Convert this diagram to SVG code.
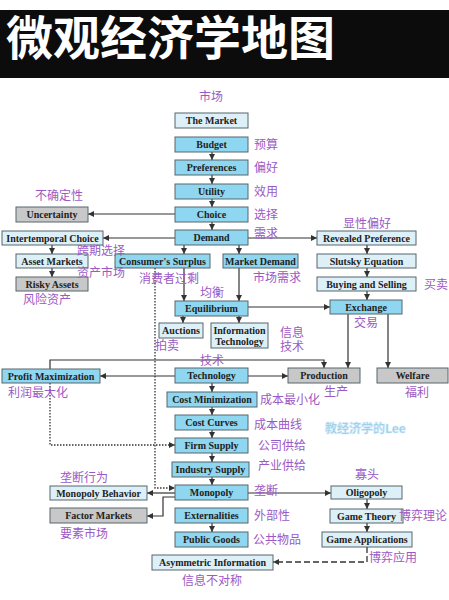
<svg xmlns="http://www.w3.org/2000/svg" width="449" height="600" viewBox="0 0 449 600">
<defs>
<marker id="ah" viewBox="0 0 6 6" refX="6" refY="3" markerWidth="6" markerHeight="6" markerUnits="userSpaceOnUse" orient="auto">
<path d="M0,0 L6,3 L0,6 z" fill="#333"/>
</marker>
<style>
.c{fill:#8fd6f0;stroke:#56666c;stroke-width:1}
.p{fill:#ddf0f8;stroke:#56666c;stroke-width:1}
.g{fill:#c8c8c8;stroke:#56666c;stroke-width:1}
.t{font-family:"Liberation Serif",serif;font-weight:bold;font-size:10px;fill:#222;text-anchor:middle}
.z{font-family:"Noto Sans CJK SC",sans-serif;font-size:12px;fill:#9b59c4}
.ln{fill:none;stroke:#333;stroke-width:1.2;marker-end:url(#ah)}
.dot{fill:none;stroke:#333;stroke-width:1.3;stroke-dasharray:1.5,1.5;marker-end:url(#ah)}
.dash{fill:none;stroke:#333;stroke-width:1.3;stroke-dasharray:6,3;marker-end:url(#ah)}
</style>
</defs>
<rect x="0" y="0" width="449" height="600" fill="#fff"/>
<rect x="0" y="10" width="449" height="68" fill="#0c0c0c"/>
<text x="6" y="55" font-family="Noto Sans CJK SC,sans-serif" font-weight="bold" font-size="47" fill="#fff">微观经济学地图</text>

<g id="connectors">
<path class="ln" d="M212,152V160"/>
<path class="ln" d="M212,175V184"/>
<path class="ln" d="M212,199V207"/>
<path class="ln" d="M212,222V230"/>
<path class="ln" d="M175,214H88"/>
<path class="ln" d="M175,238H103"/>
<path class="ln" d="M248,238H317"/>
<path class="ln" d="M184,245V254"/>
<path class="ln" d="M239,245V254"/>
<path class="ln" d="M184,268V301"/>
<path class="ln" d="M239,268V301"/>
<path class="ln" d="M52,245V254"/>
<path class="ln" d="M52,268V277"/>
<path class="ln" d="M367,245V254"/>
<path class="ln" d="M367,268V277"/>
<path class="ln" d="M367,291V300"/>
<path class="ln" d="M248,307H330"/>
<path class="ln" d="M183,316V323"/>
<path class="ln" d="M239,316V323"/>
<path class="ln" d="M348,314V368"/>
<path class="ln" d="M388,314V368"/>
<path class="ln" d="M175,376H100"/>
<path class="ln" d="M248,376H288"/>
<path class="ln" d="M50,369V360H324V368"/>
<path class="ln" d="M212,383V392"/>
<path class="ln" d="M212,407V415"/>
<path class="ln" d="M212,430V438"/>
<path class="ln" d="M212,453V462"/>
<path class="ln" d="M212,477V485"/>
<path class="ln" d="M175,493H147"/>
<path class="ln" d="M175,497H163V516H147"/>
<path class="ln" d="M248,493H331"/>
<path class="ln" d="M367,499V509"/>
<path class="ln" d="M367,523V532"/>
<path class="ln" d="M212,523V532"/>
<path class="dash" d="M367,547V562H273"/>
<path class="dot" d="M155,268V488H175"/>
<path class="dot" d="M50,383V445H175"/>
</g>

<g id="market"><rect class="p" x="175" y="113" width="73" height="15"/><text class="t" x="211.5" y="124">The Market</text></g>
<g id="budget"><rect class="c" x="175" y="137" width="73" height="15"/><text class="t" x="211.5" y="148">Budget</text></g>
<g id="preferences"><rect class="c" x="175" y="160" width="73" height="15"/><text class="t" x="211.5" y="171">Preferences</text></g>
<g id="utility"><rect class="c" x="175" y="184" width="73" height="15"/><text class="t" x="211.5" y="195">Utility</text></g>
<g id="choice"><rect class="c" x="175" y="207" width="73" height="15"/><text class="t" x="211.5" y="218">Choice</text></g>
<g id="demand"><rect class="c" x="175" y="230" width="73" height="15"/><text class="t" x="211.5" y="241">Demand</text></g>
<g id="equilibrium"><rect class="c" x="175" y="301" width="73" height="15"/><text class="t" x="211.5" y="312">Equilibrium</text></g>
<g id="technology"><rect class="c" x="175" y="368" width="73" height="15"/><text class="t" x="211.5" y="379">Technology</text></g>
<g id="costmin"><rect class="c" x="167" y="392" width="90" height="15"/><text class="t" x="212" y="403">Cost Minimization</text></g>
<g id="costcurves"><rect class="c" x="175" y="415" width="73" height="15"/><text class="t" x="211.5" y="426">Cost Curves</text></g>
<g id="firmsupply"><rect class="c" x="175" y="438" width="73" height="15"/><text class="t" x="211.5" y="449">Firm Supply</text></g>
<g id="industrysupply"><rect class="c" x="172" y="462" width="77" height="15"/><text class="t" x="210.5" y="473">Industry Supply</text></g>
<g id="monopoly"><rect class="c" x="175" y="485" width="73" height="15"/><text class="t" x="211.5" y="496">Monopoly</text></g>
<g id="externalities"><rect class="c" x="175" y="508" width="73" height="15"/><text class="t" x="211.5" y="519">Externalities</text></g>
<g id="publicgoods"><rect class="c" x="175" y="532" width="73" height="15"/><text class="t" x="211.5" y="543">Public Goods</text></g>
<g id="asym"><rect class="p" x="152" y="555" width="121" height="15"/><text class="t" x="212.5" y="566">Asymmetric Information</text></g>
<g id="uncertainty"><rect class="g" x="16" y="207" width="72" height="15"/><text class="t" x="52" y="218">Uncertainty</text></g>
<g id="intertemporal"><rect class="p" x="2" y="231" width="101" height="14"/><text class="t" x="52.5" y="241.5">Intertemporal Choice</text></g>
<g id="assetmarkets"><rect class="p" x="16" y="254" width="72" height="14"/><text class="t" x="52" y="264.5">Asset Markets</text></g>
<g id="riskyassets"><rect class="g" x="16" y="277" width="72" height="14"/><text class="t" x="52" y="287.5">Risky Assets</text></g>
<g id="consumersurplus"><rect class="c" x="115" y="254" width="95" height="14"/><text class="t" x="162.5" y="264.5">Consumer's Surplus</text></g>
<g id="marketdemand"><rect class="c" x="223" y="254" width="75" height="14"/><text class="t" x="260.5" y="264.5">Market Demand</text></g>
<g id="revealed"><rect class="p" x="317" y="231" width="99" height="14"/><text class="t" x="366.5" y="241.5">Revealed Preference</text></g>
<g id="slutsky"><rect class="p" x="317" y="254" width="99" height="14"/><text class="t" x="366.5" y="264.5">Slutsky Equation</text></g>
<g id="buying"><rect class="p" x="317" y="277" width="99" height="14"/><text class="t" x="366.5" y="287.5">Buying and Selling</text></g>
<g id="exchange"><rect class="c" x="330" y="300" width="72" height="14"/><text class="t" x="366" y="310.5">Exchange</text></g>
<g id="auctions"><rect class="p" x="159" y="323" width="44" height="15"/><text class="t" x="181" y="334">Auctions</text></g>
<g id="infotech"><rect class="p" x="211" y="323" width="57" height="25"/><text class="t" x="239.5" y="333.5" font-size="9.5">Information<tspan x="239.5" y="344.5">Technology</tspan></text></g>
<g id="profitmax"><rect class="c" x="2" y="369" width="98" height="14"/><text class="t" x="51" y="379.5">Profit Maximization</text></g>
<g id="production"><rect class="g" x="288" y="368" width="72" height="15"/><text class="t" x="324" y="379">Production</text></g>
<g id="welfare"><rect class="g" x="377" y="368" width="71" height="15"/><text class="t" x="412.5" y="379">Welfare</text></g>
<g id="monobehavior"><rect class="p" x="50" y="486" width="97" height="14"/><text class="t" x="98.5" y="496.5">Monopoly Behavior</text></g>
<g id="factormarkets"><rect class="g" x="50" y="508" width="97" height="15"/><text class="t" x="98.5" y="519">Factor Markets</text></g>
<g id="oligopoly"><rect class="p" x="331" y="486" width="71" height="13"/><text class="t" x="366.5" y="496">Oligopoly</text></g>
<g id="gametheory"><rect class="p" x="330" y="509" width="73" height="14"/><text class="t" x="366.5" y="519.5">Game Theory</text></g>
<g id="gameapps"><rect class="p" x="322" y="532" width="90" height="15"/><text class="t" x="367" y="543">Game Applications</text></g>

<g id="labels">
<text class="z" x="199" y="100.5">市场</text>
<text class="z" x="254" y="148.5">预算</text>
<text class="z" x="254" y="171.5">偏好</text>
<text class="z" x="254" y="195.5">效用</text>
<text class="z" x="254" y="218.5">选择</text>
<text class="z" x="254" y="237.5">需求</text>
<text class="z" x="343" y="227.5">显性偏好</text>
<text class="z" x="424" y="288.5">买卖</text>
<text class="z" x="35" y="199.5">不确定性</text>
<text class="z" x="77" y="254.5">跨期选择</text>
<text class="z" x="77" y="276.5">资产市场</text>
<text class="z" x="23" y="303.5">风险资产</text>
<text class="z" x="139" y="282.5">消费者过剩</text>
<text class="z" x="253" y="281.5">市场需求</text>
<text class="z" x="200" y="296.5">均衡</text>
<text class="z" x="354" y="326.5">交易</text>
<text class="z" x="155" y="349.5">拍卖</text>
<text class="z" x="280" y="336.5">信息<tspan x="280" y="351">技术</tspan></text>
<text class="z" x="200" y="364.5">技术</text>
<text class="z" x="8" y="396.5">利润最大化</text>
<text class="z" x="260" y="403.5">成本最小化</text>
<text class="z" x="324" y="395.5">生产</text>
<text class="z" x="405" y="396.5">福利</text>
<text class="z" x="254" y="428.5">成本曲线</text>
<text class="z" x="258" y="449.5">公司供给</text>
<text class="z" x="258" y="469.5">产业供给</text>
<text class="z" x="254" y="494.5">垄断</text>
<text class="z" x="355" y="478.5">寡头</text>
<text class="z" x="60" y="481.5">垄断行为</text>
<text class="z" x="60" y="537.5">要素市场</text>
<text class="z" x="254" y="519.5">外部性</text>
<text class="z" x="253" y="543.5">公共物品</text>
<text class="z" x="447" y="520" font-size="10.8" text-anchor="end">博弈理论</text>
<text class="z" x="369" y="561.5">博弈应用</text>
<text class="z" x="182" y="584.5">信息不对称</text>
<text x="325" y="432.5" font-family="Noto Sans CJK SC,sans-serif" font-weight="bold" font-size="12" fill="#8ec9ea" stroke="#cfe8f6" stroke-width="0.6">教经济学的Lee</text>
</g>
</svg>
